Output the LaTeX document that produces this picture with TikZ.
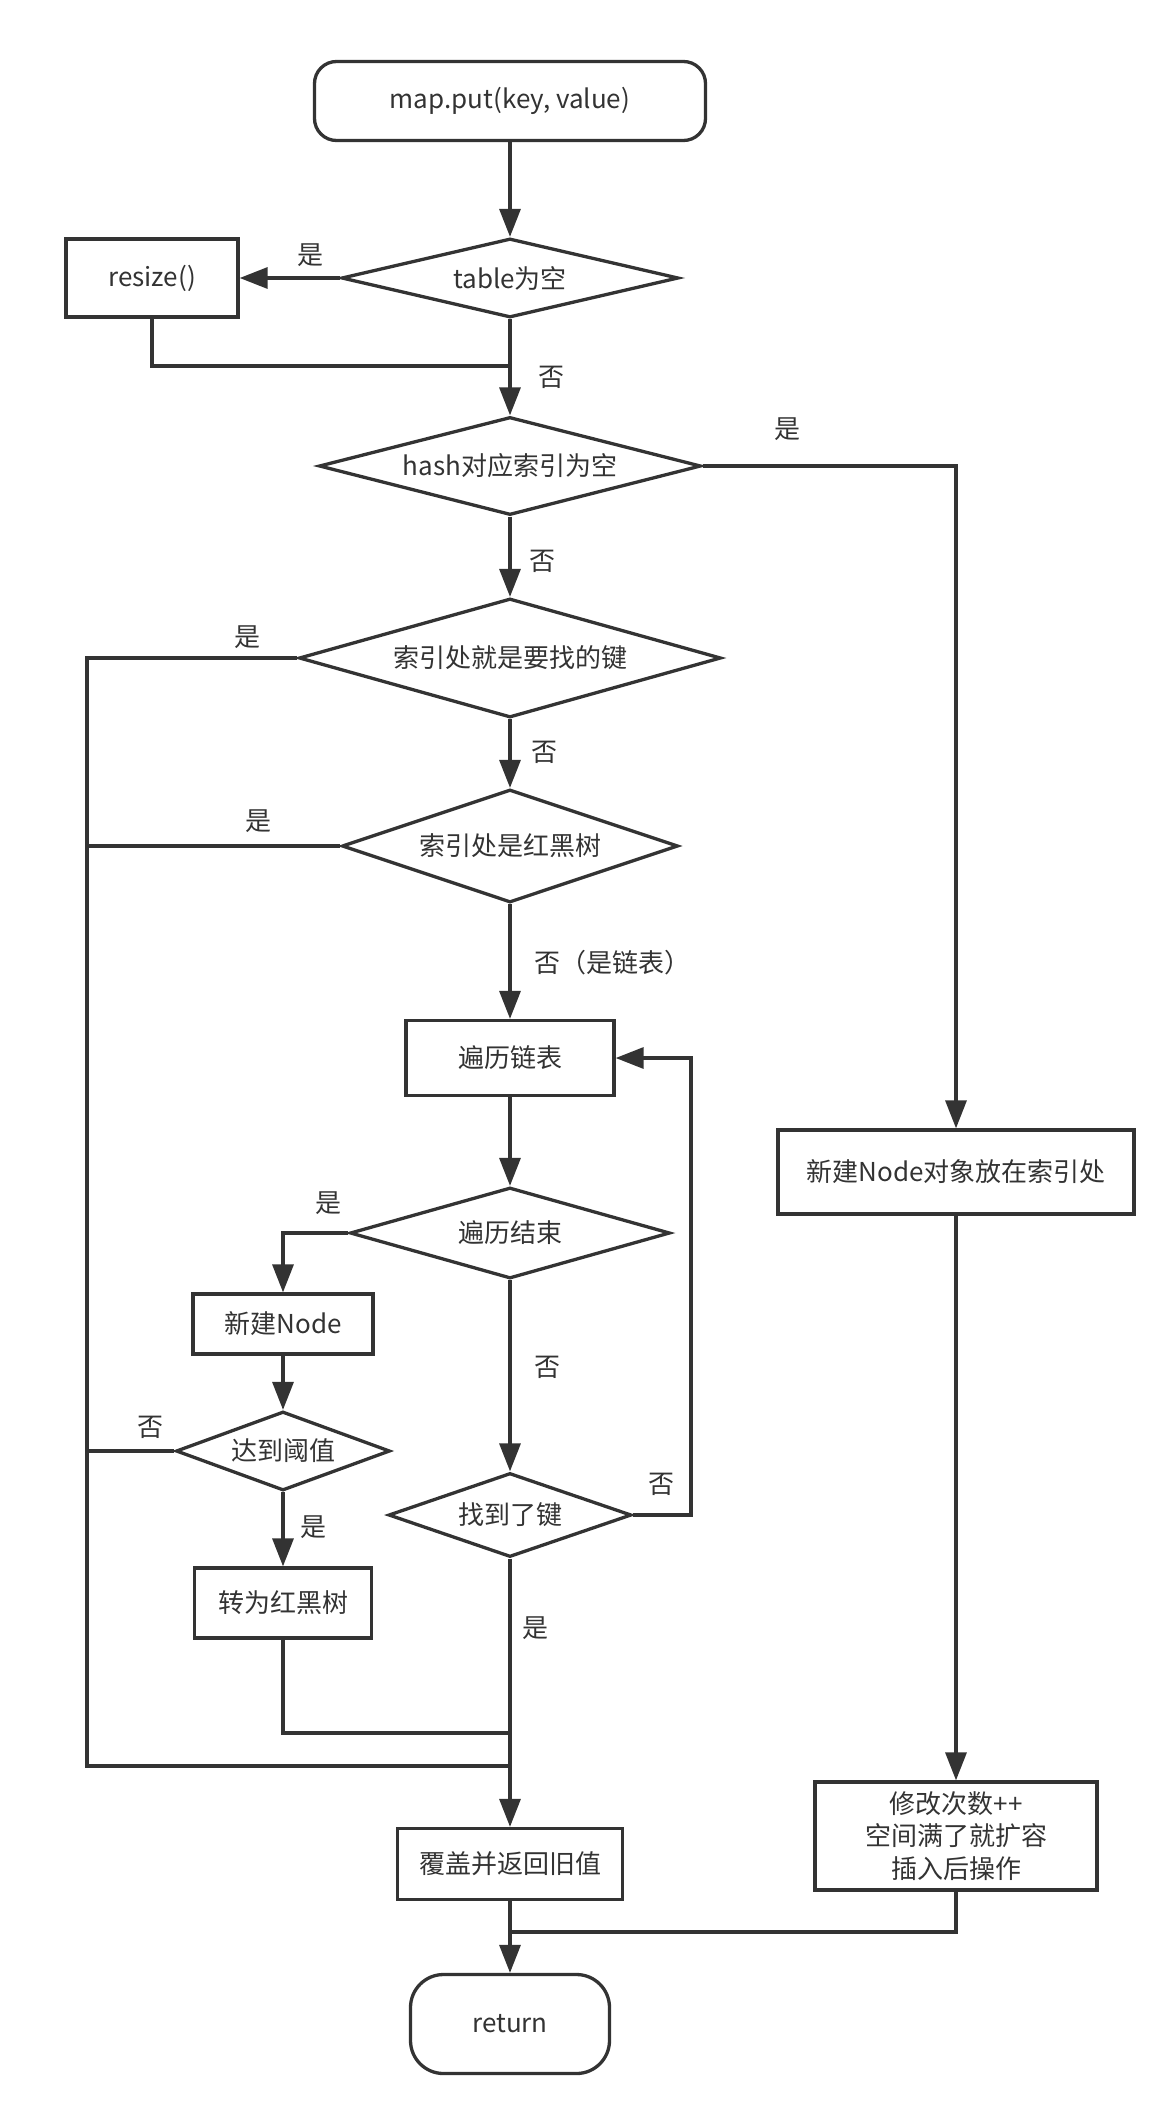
\documentclass[tikz,border=0pt]{standalone}
\usepackage{fontspec}
\setmainfont{Noto Sans CJK SC}
\usepackage{tikz}
\usetikzlibrary{arrows.meta,shapes.geometric}
\definecolor{ink}{HTML}{333333}

\begin{document}
\begin{tikzpicture}[x=1pt, y=-1pt, line width=3.3pt, color=ink,
    font=\fontsize{26}{32.5}\selectfont,
    box/.style = {draw, rectangle, inner sep=0pt, align=center},
    term/.style = {draw, rectangle, rounded corners=#1, inner sep=0pt},
    cond/.style = {draw, diamond, inner sep=0pt},
    lbl/.style = {inner sep=0pt},
    arr/.style = {-{Triangle[length=28pt,width=21pt]}}]
    \useasboundingbox (0,0) rectangle (1174,2109);

    \node[term=22pt, minimum width=391pt, minimum height=79pt] (start) at (510,101) {map.put(key, value)};
    \node[cond, aspect=4, minimum width=337pt, minimum height=79pt] (t) at (510,278) {table为空};
    \node[box, minimum width=172pt, minimum height=78pt] (rs) at (152,278) {resize()};
    \node[cond, aspect=3.8, minimum width=382pt, minimum height=98pt] (hash) at (510,466) {hash对应索引为空};
    \node[cond, aspect=3.5, minimum width=422pt, minimum height=119pt] (idx) at (510,658) {索引处就是要找的键};
    \node[cond, aspect=2.9, minimum width=336pt, minimum height=113pt] (rb) at (510,846) {索引处是红黑树};
    \node[box, minimum width=208pt, minimum height=75pt] (trav) at (510,1058) {遍历链表};
    \node[cond, aspect=3.4, minimum width=320pt, minimum height=91pt] (end) at (510,1233) {遍历结束};
    \node[box, minimum width=180pt, minimum height=60pt] (nn) at (283,1324) {新建Node};
    \node[cond, aspect=2.6, minimum width=214pt, minimum height=79pt] (thr) at (283,1451) {达到阈值};
    \node[box, minimum width=177pt, minimum height=70pt] (rbt) at (283,1603) {转为红黑树};
    \node[cond, aspect=2.8, minimum width=243pt, minimum height=84pt] (found) at (510,1515) {找到了键};
    \node[box, minimum width=225pt, minimum height=71pt] (cover) at (510,1864) {覆盖并返回旧值};
    \node[box, minimum width=356pt, minimum height=84pt] (nobj) at (956,1172) {新建Node对象放在索引处};
    \node[box, minimum width=282pt, minimum height=108pt] (mod) at (956,1836) {修改次数++\\空间满了就扩容\\插入后操作};
    \node[term=33pt, minimum width=199pt, minimum height=99pt] (ret) at (510,2024) {return};

    % bends and joins
    \coordinate (j1) at (510,366);
    \coordinate (lb) at (87,1766);
    \coordinate (j4) at (510,1766);
    \coordinate (j2) at (510,1733);
    \coordinate (rl) at (691,1058);
    \coordinate (j3) at (510,1932);

    \path[arr] (start) edge (t);
    \path[arr] (t) edge (rs);
    \draw (rs.south) |- (j1);
    \path[arr] (t) edge (hash);
    \draw[arr] (hash.east) -| (nobj.north);
    \path[arr] (hash) edge (idx);
    \draw (idx.west) -| (lb) -- (j4);
    \path[arr] (idx) edge (rb);
    \draw (rb.west) -- (rb.west -| lb);
    \path[arr] (rb) edge (trav);
    \path[arr] (trav) edge (end);
    \draw[arr] (end.west) -| (nn.north);
    \path[arr] (nn) edge (thr);
    \draw (thr.west) -- (thr.west -| lb);
    \path[arr] (thr) edge (rbt);
    \draw (rbt.south) |- (j2);
    \path[arr] (end) edge (found);
    \draw[arr] (found.east) -| (rl) -- (trav.east);
    \path[arr] (found) edge (cover);
    \path[arr] (nobj) edge (mod);
    \draw (mod.south) |- (j3);
    \path[arr] (cover) edge (ret);

    % yes / no
    \node[lbl] (y1) at (310,255) {是};
    \node[lbl] (n1) at (551,377) {否};
    \node[lbl] (y2) at (787,429) {是};
    \node[lbl] (n2) at (542,561) {否};
    \node[lbl] (y3) at (247,637) {是};
    \node[lbl] (n3) at (544,752) {否};
    \node[lbl] (y4) at (258,821) {是};
    \node[lbl, anchor=west] (n4) at (533,963) {否（是链表）};
    \node[lbl] (y5) at (328,1203) {是};
    \node[lbl] (n5) at (547,1367) {否};
    \node[lbl] (n6) at (150,1427) {否};
    \node[lbl] (y6) at (313,1527) {是};
    \node[lbl] (n7) at (661,1484) {否};
    \node[lbl] (y7) at (535,1628) {是};
\end{tikzpicture}
\end{document}
